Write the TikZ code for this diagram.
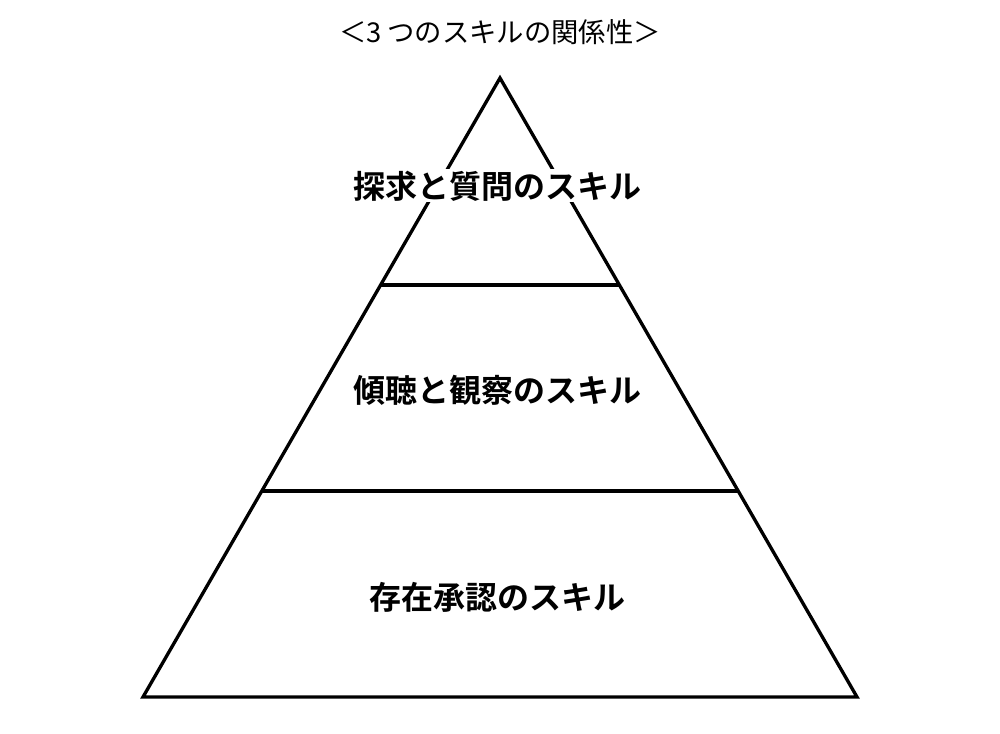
\documentclass[tikz,border=0pt]{standalone}
\usepackage{fontspec}
\newfontfamily\jpfont{Noto Sans CJK JP}
\newfontfamily\jpbold{Noto Sans CJK JP Bold}
\begin{document}
\begin{tikzpicture}[x=0.75pt,y=-0.75pt,
  edge/.style={line width=2.5pt, line join=miter},
  label/.style={font=\jpbold\fontsize{24}{28}\selectfont, fill=white, inner sep=1pt},
  title/.style={font=\jpfont\fontsize{20.5}{24}\selectfont, inner sep=0pt}]
\useasboundingbox (0,0) rectangle (1000,734);
\coordinate (apex) at (500,78);
\coordinate (bl) at (143,697);
\coordinate (br) at (857,697);
\coordinate (l1) at (380.6,285);
\coordinate (r1) at (619.4,285);
\coordinate (l2) at (261.8,491);
\coordinate (r2) at (738.2,491);
\draw[edge] (apex) -- (bl) -- (br) -- cycle;
\draw[edge] (l1) -- (r1);
\draw[edge] (l2) -- (r2);
\node[title] (t) at (500,32) {＜3 つのスキルの関係性＞};
\node[label] (a) at (497,186) {探求と質問のスキル};
\node[label] (b) at (497,390) {傾聴と観察のスキル};
\node[label] (c) at (497,597) {存在承認のスキル};
\end{tikzpicture}
\end{document}
